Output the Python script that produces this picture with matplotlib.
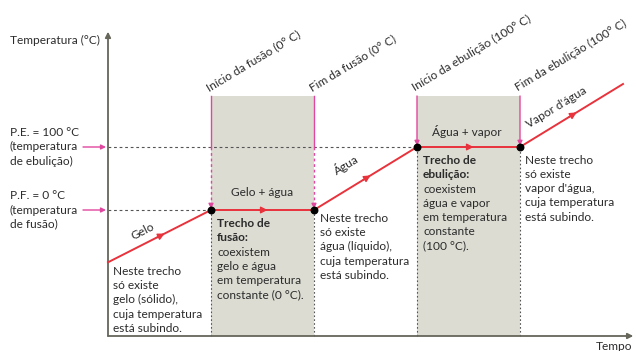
import numpy as np
import matplotlib
matplotlib.use("Agg")
import matplotlib.pyplot as plt

plt.rcParams["font.family"] = ["Lato", "DejaVu Sans"]

# heating curve of water: phase boundaries in time units, temperature in degC
time_pts = [0, 1, 2, 3, 4, 5]
temp_pts = [-83, 0, 0, 100, 100, 200]
pf_temp = 0
pe_temp = 100
boundaries = [1, 2, 3, 4]
boundary_temps = [pf_temp, pf_temp, pe_temp, pe_temp]
boundary_labels = ["Início da fusão (0° C)", "Fim da fusão (0° C)",
                   "Início da ebulição (100° C)", "Fim da ebulição (100° C)"]
segment_labels = ["Gelo", "Gelo + água", "Água", "Água + vapor", "Vapor d'água"]
region_top = 181
axis_bottom = -200
axis_top = 283
axis_right = 5.1

red = "#e8323c"
pink = "#e0479e"
axis_col = "#66665a"
shade = "#dcdcd3"
txt = "#2b2b2b"
fs = 8.6
ls = 1.35
LH = 14.3  # line height in px

# pixel helpers, only used for placing annotations
X0, SX = 108, 103.0
Y0, SY = 210, 0.63


def px(x):
    return (x - X0) / SX


def py(y):
    return (Y0 - y) / SY


fig = plt.figure(figsize=(6.36, 3.51), dpi=100)
ax = fig.add_axes([0, 0, 1, 1])
ax.set_xlim(px(0), px(636))
ax.set_ylim(py(351), py(0))
ax.axis("off")

# shaded phase-change regions
for a, b in [(boundaries[0], boundaries[1]), (boundaries[2], boundaries[3])]:
    ax.fill_between([a, b], axis_bottom, region_top, color=shade, lw=0, zorder=0)

# axes with arrows
ax.annotate("", xy=(0, axis_top), xytext=(0, axis_bottom),
            arrowprops=dict(arrowstyle="-|>", color=axis_col, lw=1.3,
                            mutation_scale=8, shrinkA=0, shrinkB=0))
ax.annotate("", xy=(axis_right, axis_bottom), xytext=(0, axis_bottom),
            arrowprops=dict(arrowstyle="-|>", color=axis_col, lw=1.3,
                            mutation_scale=8, shrinkA=0, shrinkB=0))

# gray dashed reference lines
ax.plot([0, boundaries[0]], [pf_temp, pf_temp], ls=(0, (2.5, 2.5)), color="#555", lw=0.8)
ax.plot([0, boundaries[2]], [pe_temp, pe_temp], ls=(0, (2.5, 2.5)), color="#555", lw=0.8)
for b, tt in zip(boundaries, boundary_temps):
    ax.plot([b, b], [axis_bottom, tt], ls=(0, (1.5, 2)), color="#555", lw=0.8)

# pink markers for the start / end of the phase changes
for b, tt in zip(boundaries, boundary_temps):
    if tt == pf_temp:
        ax.plot([b, b], [region_top, pe_temp], color=pink, lw=1.0)
        ax.plot([b, b], [pe_temp, tt + 8], color=pink, lw=1.0, ls=(0, (2, 2)))
        ax.annotate("", xy=(b, tt + 2), xytext=(b, tt + 10),
                    arrowprops=dict(arrowstyle="-|>", color=pink, lw=1.0,
                                    mutation_scale=7, shrinkA=0, shrinkB=0))
    else:
        ax.annotate("", xy=(b, tt + 2), xytext=(b, region_top),
                    arrowprops=dict(arrowstyle="-|>", color=pink, lw=1.0,
                                    mutation_scale=7, shrinkA=0, shrinkB=0))

for tt in [pe_temp, pf_temp]:
    ax.annotate("", xy=(px(106), tt), xytext=(px(83), tt),
                arrowprops=dict(arrowstyle="-|>", color=pink, lw=1.0,
                                mutation_scale=7, shrinkA=0, shrinkB=0))

# heating curve
ax.plot(time_pts, temp_pts, color=red, lw=1.4, zorder=3)
for i in range(len(time_pts) - 1):
    t0, t1 = time_pts[i], time_pts[i + 1]
    y0, y1 = temp_pts[i], temp_pts[i + 1]
    m = 0.55
    xa, ya = t0 + (t1 - t0) * (m - 0.08), y0 + (y1 - y0) * (m - 0.08)
    xb, yb = t0 + (t1 - t0) * m, y0 + (y1 - y0) * m
    ax.annotate("", xy=(xb, yb), xytext=(xa, ya),
                arrowprops=dict(arrowstyle="-|>", color=red, lw=1.0,
                                mutation_scale=10, shrinkA=0, shrinkB=0), zorder=4)
ax.scatter(boundaries, boundary_temps, s=22, color="black", zorder=5)

# boundary labels, rotated
for b, lab in zip(boundaries, boundary_labels):
    ax.text(b - 1 / SX, py(93), lab, rotation=31, rotation_mode="anchor",
            ha="left", va="bottom", fontsize=fs, color=txt)


# segment labels
def seg_angle(i):
    dx = (time_pts[i + 1] - time_pts[i]) * SX
    dy = (temp_pts[i + 1] - temp_pts[i]) * SY
    return np.degrees(np.arctan2(dy, dx))


ax.text(px(143), py(231), segment_labels[0], rotation=seg_angle(0), ha="center", va="center",
        fontsize=fs, color=txt)
ax.text(px(262), py(193), segment_labels[1], ha="center", va="center", fontsize=fs, color=txt)
ax.text(px(346), py(164), segment_labels[2], rotation=seg_angle(2), ha="center", va="center",
        fontsize=fs, color=txt)
ax.text(px(467), py(132), segment_labels[3], ha="center", va="center", fontsize=fs, color=txt)
ax.text(px(556), py(107), segment_labels[4], rotation=seg_angle(4), ha="center", va="center",
        fontsize=fs, color=txt)

# axis titles
ax.text(px(10), py(40), "Temperatura (°C)", ha="left", va="center", fontsize=fs, color=txt)
ax.text(px(632), py(347), "Tempo", ha="right", va="center", fontsize=fs, color=txt)
ax.text(px(10), pe_temp, "P.E. = 100 °C\n(temperatura\nde ebulição)", ha="left", va="center",
        fontsize=fs, color=txt, linespacing=ls)
ax.text(px(10), pf_temp, "P.F. = 0 °C\n(temperatura\nde fusão)", ha="left", va="center",
        fontsize=fs, color=txt, linespacing=ls)


# explanatory blocks
def block(x, y_top, s, bold=None):
    if bold:
        ax.text(px(x), py(y_top), bold, ha="left", va="top", fontsize=fs,
                color=txt, fontweight="bold", linespacing=ls)
        y_top += LH * (bold.count("\n") + 1)
    ax.text(px(x), py(y_top), s, ha="left", va="top", fontsize=fs, color=txt,
            linespacing=ls)


block(113, 266, "Neste trecho\nsó existe\ngelo (sólido),\ncuja temperatura\nestá subindo.")
block(217, 218, "coexistem\ngelo e água\nem temperatura\nconstante (0 °C).", "Trecho de\nfusão:")
block(320, 213, "Neste trecho\nsó existe\nágua (líquido),\ncuja temperatura\nestá subindo.")
block(423, 155, "coexistem\nágua e vapor\nem temperatura\nconstante\n(100 °C).", "Trecho de\nebulição:")
block(525, 155, "Neste trecho\nsó existe\nvapor d'água,\ncuja temperatura\nestá subindo.")

fig.savefig("out.png", dpi=100)
